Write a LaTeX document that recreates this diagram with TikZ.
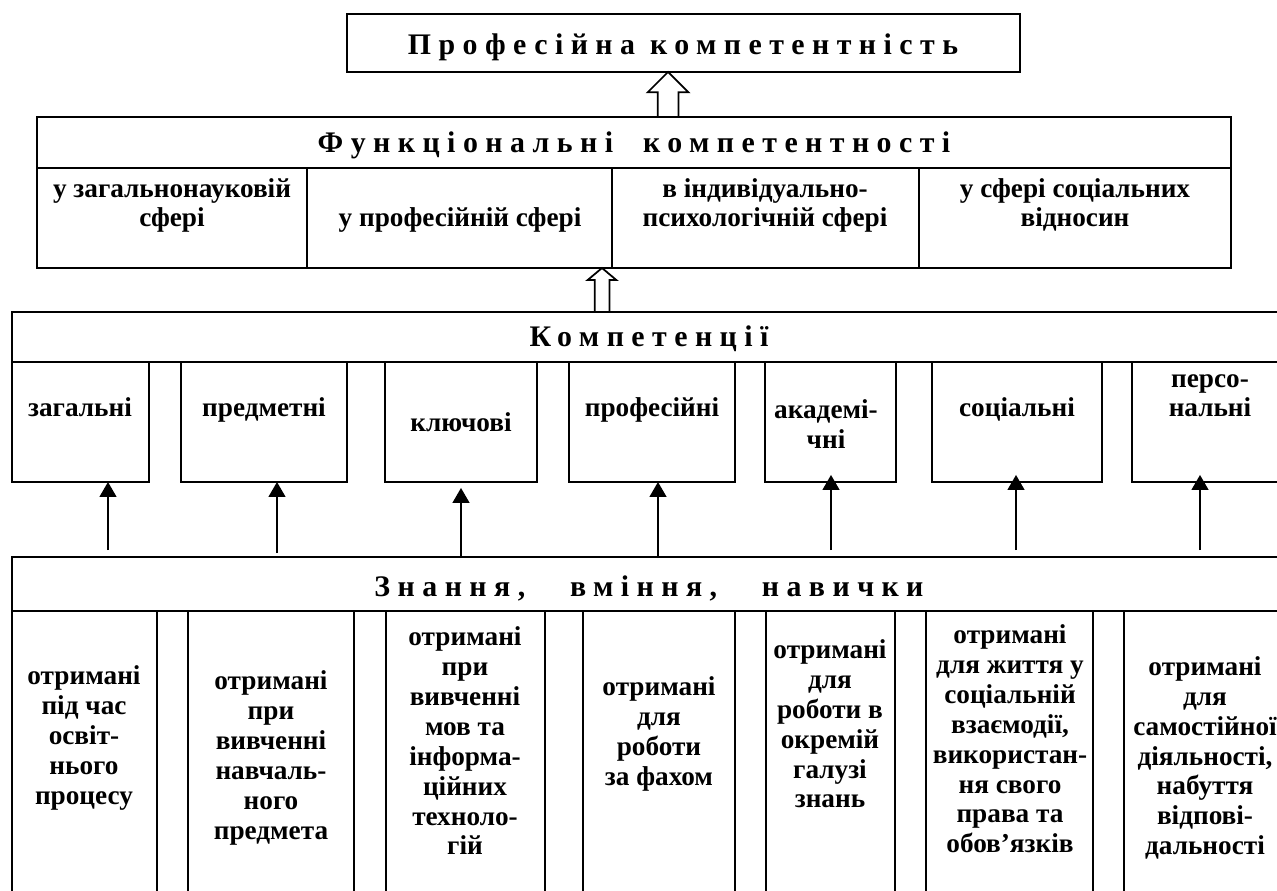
\documentclass[tikz,border=0pt]{standalone}
\usepackage{fontspec}
\setmainfont{Liberation Serif}
\newfontfamily\spacedfont[LetterSpace=25]{Liberation Serif}
\usetikzlibrary{arrows.meta,shapes.arrows,fit,positioning}

\begin{document}
\begin{tikzpicture}[x=0.02cm, y=-0.02cm, >={Triangle[width=0.34cm,length=0.3cm]},
  frame/.style={draw, line width=1pt, inner sep=0pt, outer sep=0pt},
  words/.style={font=\bfseries\fontsize{15.5}{17}\selectfont, align=center, inner sep=0pt},
  heading/.style={font=\spacedfont\bfseries\fontsize{17}{20}\selectfont, inner sep=0pt},
  hollow/.style={draw, fill=white, line width=1pt, single arrow, inner xsep=0pt, outer sep=0pt, rotate=90, anchor=tip},
  link/.style={->, line width=0.8pt}]

  \useasboundingbox (0,0) rectangle (1277,891);
  \clip (0,0) rectangle (1277,891);

  % Top level
  \node[frame, fit={(347,14) (1020,72)}] (prof) {};
  \node[heading, anchor=base] (proftitle) at (683,55) {Професійна компетентність};

  % Functional competences
  \node[frame, fit={(37,117) (1231,168)}] (func) {};
  \node[heading, anchor=base] (functitle) at (634,153) {Функціональні\hspace{1em}компетентності};
  \foreach \i/\a/\b in {1/37/307, 2/307/612, 3/612/919, 4/919/1231}
    \node[frame, fit={(\a,168) (\b,268)}] (fcell\i) {};
  \node[words, anchor=base] (ftext1) at (172,227) {у загальнонауковій\\сфері};
  \node[words, anchor=base] (ftext2) at (460,227) {у професійній сфері};
  \node[words, anchor=base] (ftext3) at (765,227) {в індивідуально-\\психологічній сфері};
  \node[words, anchor=base] (ftext4) at (1075,227) {у сфері соціальних\\відносин};

  % Competences
  \node[frame, fit={(12,312) (1290,362)}] (komp) {};
  \node[heading, anchor=base] (komptitle) at (649,347) {Компетенції};
  \foreach \i/\a/\b in {1/12/149, 2/181/347, 3/385/537, 4/569/735, 5/765/896, 6/932/1102, 7/1132/1290}
    \node[frame, fit={(\a,362) (\b,482)}] (kbox\i) {};
  \node[words, anchor=base] (ktext1) at (80,417) {загальні};
  \node[words, anchor=base] (ktext2) at (264,417) {предметні};
  \node[words, anchor=base] (ktext3) at (461,432) {ключові};
  \node[words, anchor=base] (ktext4) at (652,417) {професійні};
  \node[words, anchor=base] (ktext5) at (826,448) {академі-\\чні};
  \node[words, anchor=base] (ktext6) at (1017,417) {соціальні};
  \node[words, anchor=base] (ktext7) at (1210,417) {персо-\\нальні};

  % Knowledge, abilities, skills
  \node[frame, fit={(12,557) (1290,611)}] (znan) {};
  \node[heading, anchor=base] (zntitle) at (649,596) {Знання,\hspace{1.5em}вміння,\hspace{1.5em}навички};
  \foreach \i/\a/\b in {1/12/157, 2/188/354, 3/386/545, 4/583/735, 5/766/895, 6/926/1093, 7/1124/1290}
    \node[frame, fit={(\a,611) (\b,900)}] (zcol\i) {};
  \node[words] (ztext1) at (84,738) {отримані\\під час\\освіт-\\нього\\процесу};
  \node[words] (ztext2) at (271,758) {отримані\\при\\вивченні\\навчаль-\\ного\\предмета};
  \node[words] (ztext3) at (465,741) {отримані\\при\\вивченні\\мов та\\інформа-\\ційних\\техноло-\\гій};
  \node[words] (ztext4) at (659,734) {отримані\\для\\роботи\\за фахом};
  \node[words] (ztext5) at (830,724) {отримані\\для\\роботи в\\окремій\\галузі\\знань};
  \node[words] (ztext6) at (1010,739) {отримані\\для життя у\\соціальній\\взаємодії,\\використан-\\ня свого\\права та\\обов’язків};
  \node[words] (ztext7) at (1205,758) {отримані\\для\\самостійної\\діяльності,\\набуття\\відпові-\\дальності};

  % Hollow arrows between levels
  \node[hollow, inner ysep=0.19cm, minimum height=0.9cm, single arrow head extend=0.2cm] (up1) at (668,0 |- prof.south) {};
  \node[hollow, inner ysep=0.13cm, minimum height=0.88cm, single arrow head extend=0.14cm, single arrow tip angle=100] (up2) at (602,0 |- fcell2.south) {};

  % Arrows from knowledge to competences
  \foreach \i/\x/\t/\s in {1/108/550/0pt, 2/277/553/0pt, 3/461/558/3.4pt, 4/658/558/0pt, 5/831/550/-4pt, 6/1016/550/-4pt, 7/1200/550/-4pt}
    \draw[link, shorten >=\s] (\x,\t) coordinate (from\i) -- (from\i |- kbox\i.south);

\end{tikzpicture}
\end{document}
